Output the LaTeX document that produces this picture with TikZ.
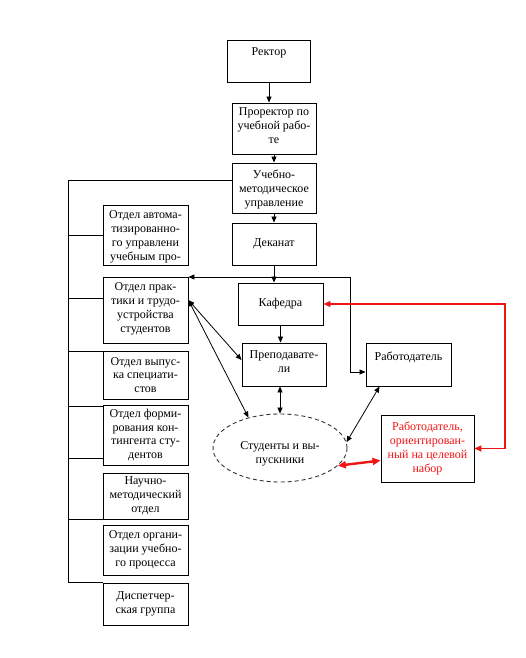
\documentclass[tikz,border=0pt]{standalone}
\usepackage{fontspec}
\setmainfont{Liberation Serif}
\usetikzlibrary{shapes.geometric,arrows.meta,calc}
\definecolor{rd}{RGB}{240,20,20}
\newcommand{\bt}[5]{\parbox[c][#2pt][#3]{#1pt}{\centering\fontsize{12}{13.8}\selectfont\vspace*{#4pt}#5\par}}
\tikzset{
  box/.style={draw=black, line width=0.9pt, inner sep=0pt, fill=white},
  ln/.style={draw=black, line width=0.8pt},
  arr/.style={ln, -{Triangle[length=6pt,width=5pt]}},
  darr/.style={ln, {Triangle[length=6pt,width=5pt]}-{Triangle[length=6pt,width=5pt]}},
  rline/.style={draw=rd, line width=1.6pt, {Triangle[length=7pt,width=6pt]}-{Triangle[length=7pt,width=6pt]}},
  rthick/.style={draw=rd, line width=2.4pt, {Triangle[length=8pt,width=7pt]}-{Triangle[length=8pt,width=7pt]}},
  studst/.style={ellipse, draw=black!80, line width=0.9pt, dash pattern=on 4pt off 3pt, minimum width=134pt, minimum height=68pt, inner sep=0pt},
  studtx/.style={align=center, inner sep=0pt, font=\fontsize{12}{13.8}\selectfont}
}
\begin{document}
\begin{tikzpicture}[x=1pt,y=-1pt]
\fill[white] (0,0) rectangle (526,658);
% central column
\node[box] (rektor) at (269,61) {\bt{83}{42}{t}{8}{Ректор}};
\node[box] (prorektor) at (274,128.5) {\bt{84}{51}{t}{5}{Проректор по\\учебной рабо-\\те}};
\node[box] (umu) at (274,188) {\bt{84}{50}{t}{7}{Учебно-\\методическое\\управление}};
\node[box] (dekanat) at (274,244) {\bt{84}{42}{c}{0}{Деканат}};
\node[box] (kafedra) at (280.5,304) {\bt{85}{42}{c}{0}{Кафедра}};
\node[box] (prepod) at (284,364.5) {\bt{84}{43}{t}{8}{Преподавате-\\ли}};
\node[box] (rabot) at (408.5,364.5) {\bt{85}{43}{t}{9}{Работодатель}};
\node[studst] (stud) at (280,448) {};
\node[studtx] (studt) at ($(stud.center)+(0,6)$) {Студенты и вы-\\пускники};
\node[box] (redbox) at (427.5,448.5) {\bt{93}{67}{c}{0}{\color{rd}Работодатель,\\ориентирован-\\ный на целевой\\набор}};
% left column
\node[box] (avtomat) at (145.5,235) {\bt{85}{60}{t}{6}{Отдел автома-\\тизированно-\\го управлени\\учебным про-}};
\node[box] (praktika) at (145.5,310) {\bt{85}{66}{t}{6}{Отдел прак-\\тики и трудо-\\устройства\\студентов}};
\node[box] (vypusk) at (145.5,375) {\bt{85}{48}{c}{0}{Отдел выпус-\\ка специати-\\стов}};
\node[box] (formir) at (145.5,435) {\bt{85}{60}{c}{0}{Отдел форми-\\рования кон-\\тингента сту-\\дентов}};
\node[box] (nauch) at (145.5,496) {\bt{85}{46}{c}{0}{Научно-\\методический\\отдел}};
\node[box] (organiz) at (145.5,550) {\bt{85}{50}{c}{0}{Отдел органи-\\зации учебно-\\го процесса}};
\node[box] (disp) at (145.5,604) {\bt{85}{42}{c}{0}{Диспетчер-\\ская группа}};
% vertical chain
\draw[arr] (rektor.south) -- (rektor.south |- prorektor.north);
\draw[arr] (prorektor.south) -- (prorektor.south |- umu.north);
\draw[arr] (umu.south) -- (umu.south |- dekanat.north);
\draw[arr] (dekanat.south) -- (dekanat.south |- kafedra.north);
\draw[arr] (kafedra.south) -- (kafedra.south |- prepod.north);
\draw[darr] (stud.north |- prepod.south) -- (stud.north);
% left bus
\coordinate (Ltop) at (68,180);
\coordinate (Lbot) at (68,582);
\coordinate (ustart) at ($(umu.west)+(0,-8)$);
\coordinate (bprak) at ($(praktika.west)+(0,-12)$);
\coordinate (bvyp) at ($(vypusk.north west)+(0,1)$);
\coordinate (bform) at ($(formir.north west)+(0,2)$);
\coordinate (bform2) at ($(formir.south west)+(0,-7)$);
\draw[ln] (ustart) -- (Ltop) -- (Lbot) -- (Lbot -| disp.west);
\draw[ln] (Ltop |- avtomat.west) -- (avtomat.west);
\draw[ln] (Ltop |- bprak) -- (bprak);
\draw[ln] (Ltop |- bvyp) -- (bvyp);
\draw[ln] (Ltop |- bform) -- (bform);
\draw[ln] (Ltop |- bform2) -- (bform2);
\draw[ln] (Ltop |- nauch.south west) -- (nauch.south west);
% horizontal line under Деканат
\coordinate (hj) at (350,277);
\coordinate (hc) at (350,372);
\draw[arr] (hj) -- (hj -| praktika.east);
\draw[arr] (hj) -- (hc) -- (hc -| rabot.west);
% practice dept double arrows
\draw[darr] (praktika.13) -- (prepod.174);
\draw[darr] (praktika.13) -- (stud.136);
% employer - students
\coordinate (rbs) at ($(rabot.south west)+(14,0)$);
\draw[darr] (rbs) -- (stud.5);
% red connectors
\coordinate (rr) at (505,304);
\draw[rline] (kafedra.east) -- (rr) -- (rr |- redbox.east) -- (redbox.east);
\coordinate (rbw) at ($(redbox.west)+(0,12)$);
\draw[rthick] (stud.-17) -- (rbw);
\end{tikzpicture}
\end{document}
